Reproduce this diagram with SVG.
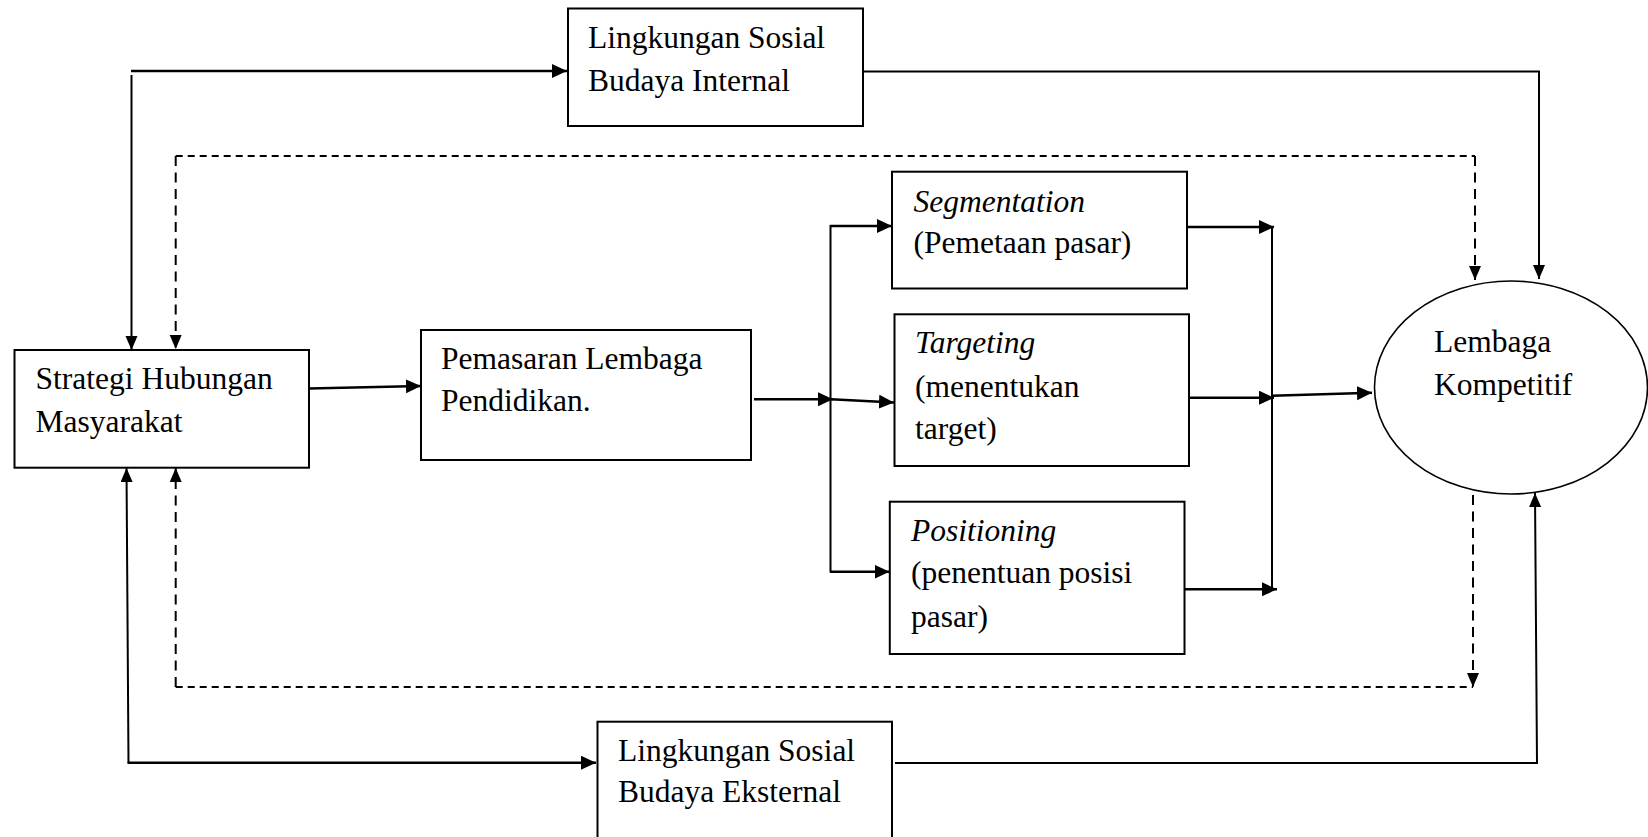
<svg xmlns="http://www.w3.org/2000/svg" width="1648" height="837" viewBox="0 0 1648 837">
<style>
.box{fill:#fff;stroke:#000;stroke-width:2}
.t{font-family:"Liberation Serif","Times New Roman",serif;font-size:31.5px;fill:#000}
.i{font-style:italic}
.c{fill:none;stroke:#000;stroke-width:2}
.k{fill:none;stroke:#000;stroke-width:2.6}
.dh{fill:none;stroke:#000;stroke-width:2;stroke-dasharray:7 5}
.dv{fill:none;stroke:#000;stroke-width:2;stroke-dasharray:10 6.5}
</style>
<defs>
<marker id="a" markerUnits="userSpaceOnUse" markerWidth="16" markerHeight="16" refX="15" refY="7" orient="auto">
<path d="M0,0 L15,7 L0,14 z" fill="#000"/>
</marker>
<marker id="s" markerUnits="userSpaceOnUse" markerWidth="16" markerHeight="16" refX="14" refY="6" orient="auto">
<path d="M0,0 L14,6 L0,12 z" fill="#000"/>
</marker>
</defs>
<rect width="1648" height="837" fill="#fff"/>
<g id="connectors">
<line class="k" x1="131" y1="71" x2="567" y2="71" marker-end="url(#a)"/>
<line class="c" x1="131.5" y1="75" x2="131.5" y2="350" marker-end="url(#s)"/>
<polyline class="c" points="863,71.5 1539,71.5 1539,279" marker-end="url(#s)"/>
<line class="dv" x1="175.7" y1="156" x2="175.7" y2="349" marker-end="url(#s)"/>
<line class="dh" x1="175.7" y1="156" x2="1475" y2="156"/>
<line class="dv" x1="1475" y1="156" x2="1475" y2="280" marker-end="url(#s)"/>
<line class="dv" x1="175.7" y1="687" x2="175.7" y2="468" marker-end="url(#s)"/>
<line class="dh" x1="175.7" y1="687" x2="1473" y2="687"/>
<line class="dv" x1="1473" y1="495" x2="1473" y2="687" marker-end="url(#s)"/>
<line class="k" x1="309" y1="388.5" x2="421" y2="386" marker-end="url(#a)"/>
<line class="k" x1="754" y1="399.3" x2="833" y2="399.3" marker-end="url(#a)"/>
<line class="k" x1="831" y1="399.3" x2="894" y2="402.5" marker-end="url(#a)"/>
<line class="c" x1="830.5" y1="225" x2="830.5" y2="572.5"/>
<line class="k" x1="830" y1="226" x2="892" y2="226" marker-end="url(#a)"/>
<line class="k" x1="830" y1="571.7" x2="889.5" y2="571.7" marker-end="url(#a)"/>
<line class="k" x1="1187" y1="227" x2="1274" y2="227" marker-end="url(#a)"/>
<line class="k" x1="1189" y1="397.7" x2="1274" y2="397.7" marker-end="url(#a)"/>
<line class="k" x1="1185" y1="589.3" x2="1277" y2="589.3" marker-end="url(#a)"/>
<line class="c" x1="1272" y1="226" x2="1272" y2="590"/>
<line class="k" x1="1272" y1="395.7" x2="1372" y2="392.7" marker-end="url(#a)"/>
<line class="c" x1="128.5" y1="762.7" x2="126.5" y2="468" marker-end="url(#s)"/>
<line class="k" x1="127.5" y1="762.7" x2="596" y2="762.7" marker-end="url(#a)"/>
<polyline class="c" points="895,763 1537,763 1535,493" marker-end="url(#s)"/>
</g>
<g id="n-internal">
<rect class="box" x="568" y="8.5" width="295" height="117.5"/>
<text class="t" x="588" y="47.5">Lingkungan Sosial</text>
<text class="t" x="588" y="90.5">Budaya Internal</text>
</g>
<g id="n-strategi">
<rect class="box" x="14.5" y="350" width="294.5" height="117.7"/>
<text class="t" x="35.6" y="389.3">Strategi Hubungan</text>
<text class="t" x="35.6" y="432.3">Masyarakat</text>
</g>
<g id="n-pemasaran">
<rect class="box" x="421" y="330" width="330" height="130"/>
<text class="t" x="441" y="369.3">Pemasaran Lembaga</text>
<text class="t" x="441" y="411">Pendidikan.</text>
</g>
<g id="n-segmentation">
<rect class="box" x="892" y="171.7" width="295" height="116.8"/>
<text class="t i" x="913.6" y="211.7">Segmentation</text>
<text class="t" x="913.6" y="253.3">(Pemetaan pasar)</text>
</g>
<g id="n-targeting">
<rect class="box" x="894.5" y="314.3" width="294.5" height="151.7"/>
<text class="t i" x="915" y="353.3">Targeting</text>
<text class="t" x="915" y="396.7">(menentukan</text>
<text class="t" x="915" y="439.3">target)</text>
</g>
<g id="n-positioning">
<rect class="box" x="889.8" y="501.7" width="294.7" height="152.3"/>
<text class="t i" x="911" y="540.7">Positioning</text>
<text class="t" x="911" y="583.3">(penentuan posisi</text>
<text class="t" x="911" y="626.7">pasar)</text>
</g>
<g id="n-lembaga">
<ellipse cx="1511" cy="387.5" rx="136.5" ry="106.5" fill="#fff" stroke="#000" stroke-width="1.6"/>
<text class="t" x="1434" y="351.7">Lembaga</text>
<text class="t" x="1434" y="395">Kompetitif</text>
</g>
<g id="n-eksternal">
<rect class="box" x="597.5" y="721.7" width="294.5" height="130"/>
<text class="t" x="618" y="761">Lingkungan Sosial</text>
<text class="t" x="618" y="801.7">Budaya Eksternal</text>
</g>
</svg>
